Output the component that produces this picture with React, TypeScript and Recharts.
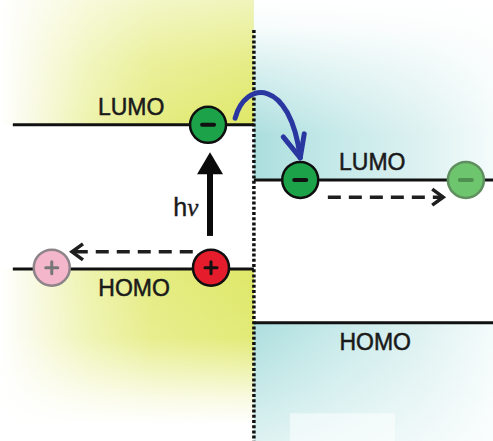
import React from "react";
import { ComposedChart, XAxis, YAxis, Scatter, ReferenceLine, ReferenceArea } from "recharts";

// ---- data (x: position across interface, y: energy, arbitrary units) ----
const interfaceX = 5.15;
const interfaceTop = 9.32;
const donorRange = [0.26, 5.15];
const acceptorRange = [5.15, 10];
const donorLevels = { LUMO: 7.17, HOMO: 3.9 };
const acceptorLevels = { LUMO: 5.92, HOMO: 2.68 };

const electrons = [
  { x: 4.22, y: 7.17, kind: "electron" },
  { x: 6.09, y: 5.92, kind: "electron" },
  { x: 9.45, y: 5.92, kind: "electronFaded" },
];
const holes = [
  { x: 4.28, y: 3.93, kind: "hole" },
  { x: 1.05, y: 3.93, kind: "holeFaded" },
];
const levelLabels = [
  { x: 2.66, y: 7.57, text: "LUMO" },
  { x: 2.72, y: 3.47, text: "HOMO" },
  { x: 7.55, y: 6.33, text: "LUMO" },
  { x: 7.61, y: 2.24, text: "HOMO" },
];
const photonLabel = [{ x: 3.77, y: 5.31, text: "hν" }];

const excitation = [{ x: 4.26, y: 4.65 }, { x: 4.26, y: 6.55 }];
const holeDrift = [{ x: 3.91, y: 4.29 }, { x: 1.46, y: 4.29 }];
const electronDrift = [{ x: 6.65, y: 5.53 }, { x: 8.99, y: 5.53 }];
const chargeTransfer = [{ x: 4.77, y: 7.32 }, { x: 6.09, y: 6.42 }];

// background bands: donor (yellow) and acceptor (cyan) above LUMO / below HOMO
const bands = [
  { id: "dU", x1: 0, x2: interfaceX, y1: donorLevels.LUMO, y2: 10, color: "yH", fade: "fadeDU" },
  { id: "dL", x1: 0, x2: interfaceX, y1: 0, y2: donorLevels.HOMO, color: "yH", fade: "fadeDL" },
  { id: "aU", x1: interfaceX, x2: 10, y1: acceptorLevels.LUMO, y2: 10, color: "cH", fade: "fadeAU" },
  { id: "aL", x1: interfaceX, x2: 10, y1: 0, y2: acceptorLevels.HOMO, color: "cH", fade: "fadeAL" },
];
const whitePatch = { x1: 5.88, x2: 8.01, y1: 0, y2: 0.63 };

const W = 493;
const H = 441;

const particleStyle: Record<string, { fill: string; stroke: string; sign: string; minus: boolean }> = {
  electron: { fill: "#1ca34a", stroke: "#0f0f0f", sign: "#111", minus: true },
  electronFaded: { fill: "#6dc66d", stroke: "#5f8f5f", sign: "#4f8f4f", minus: true },
  hole: { fill: "#e41c2b", stroke: "#0f0f0f", sign: "#111", minus: false },
  holeFaded: { fill: "#f3b6cb", stroke: "#8d8389", sign: "#777", minus: false },
};

const Particle = (props: any) => {
  const { cx, cy, payload } = props;
  const s = particleStyle[payload.kind];
  return (
    <g>
      <circle cx={cx} cy={cy} r={18} fill={s.fill} stroke={s.stroke} strokeWidth={2.5} />
      <line x1={cx - 6} x2={cx + 6} y1={cy} y2={cy} stroke={s.sign} strokeWidth={s.minus ? 4 : 3} strokeLinecap="round" />
      {!s.minus && (
        <line x1={cx} x2={cx} y1={cy - 6} y2={cy + 6} stroke={s.sign} strokeWidth={3} strokeLinecap="round" />
      )}
    </g>
  );
};

const LabelShape = (props: any) => {
  const { cx, cy, payload } = props;
  if (payload.text === "hν") {
    return (
      <text x={cx} y={cy} textAnchor="middle" dominantBaseline="central" fontSize={25} fill="#1a1a1a" stroke="#1a1a1a" strokeWidth={0.4}>
        <tspan fontFamily="'Liberation Sans', Arial, sans-serif">h</tspan>
        <tspan fontFamily="'Liberation Serif', 'Times New Roman', serif" fontStyle="italic">ν</tspan>
      </text>
    );
  }
  return (
    <text
      x={cx}
      y={cy}
      textAnchor="middle"
      dominantBaseline="central"
      fontFamily="'Liberation Sans', Arial, sans-serif"
      fontSize={23}
      fill="#1a1a1a"
      stroke="#1a1a1a"
      strokeWidth={0.5}
    >
      {payload.text}
    </text>
  );
};

const SolidArrow = (p: any) => {
  const { x1, y1, x2, y2 } = p;
  const head = 22;
  return (
    <g>
      <line x1={x1} y1={y1} x2={x2} y2={y2 + head - 2} stroke="#0a0a0a" strokeWidth={6} />
      <polygon points={`${x2},${y2} ${x2 - 13},${y2 + head} ${x2 + 13},${y2 + head}`} fill="#0a0a0a" />
    </g>
  );
};

const DashedArrow = (p: any) => {
  const { x1, y1, x2, y2 } = p;
  const dir = Math.sign(x2 - x1);
  return (
    <g stroke="#1e1e1e" strokeWidth={3.5} fill="none">
      <line x1={x1} y1={y1} x2={x2 - dir * 2} y2={y2} strokeDasharray="13 8" />
      <polyline
        points={`${x2 - dir * 11},${y2 - 8} ${x2},${y2} ${x2 - dir * 11},${y2 + 8}`}
        strokeLinejoin="miter"
        strokeLinecap="butt"
      />
    </g>
  );
};

const CurvedArrow = (p: any) => {
  const { x1, y1, x2, y2 } = p;
  const d = `M${x1},${y1} C${x1 + 10},${y1 - 38} ${x2 - 10},${y2 - 80} ${x2},${y2}`;
  return (
    <g stroke="#2a37a0" strokeWidth={5} fill="none" strokeLinecap="round" strokeLinejoin="round">
      <path d={d} />
      <polyline points={`${x2 - 17},${y2 - 21} ${x2},${y2} ${x2 + 4},${y2 - 24}`} />
    </g>
  );
};

const makeBand = (color: string, fade: string) => (p: any) => {
  const { x, y, width, height } = p;
  return (
    <g>
      <rect x={x} y={y} width={width} height={height} fill={`url(#${color})`} />
      <rect x={x} y={y} width={width} height={height} fill={`url(#${fade})`} />
    </g>
  );
};

const V = (props: { id: string; stops: [number, number][] }) => (
  <linearGradient id={props.id} x1="0" y1="0" x2="0" y2="1">
    {props.stops.map(([o, a], i) => (
      <stop key={i} offset={o} stopColor="#ffffff" stopOpacity={a} />
    ))}
  </linearGradient>
);

export default function App() {
  return (
    <div style={{ position: "absolute", left: 0, top: 0, background: "#fff" }}>
      <ComposedChart width={W} height={H} margin={{ top: 0, right: 0, bottom: 0, left: 0 }}>
        <defs>
          <linearGradient id="yH" x1="0" y1="0" x2="1" y2="0">
            <stop offset="0" stopColor="#ffffff" />
            <stop offset="0.1" stopColor="#fafbea" />
            <stop offset="0.35" stopColor="#eef3ae" />
            <stop offset="0.6" stopColor="#e5ec82" />
            <stop offset="1" stopColor="#dfe868" />
          </linearGradient>
          <linearGradient id="cH" x1="0" y1="0" x2="1" y2="0">
            <stop offset="0" stopColor="#acdede" />
            <stop offset="0.35" stopColor="#c6e9e9" />
            <stop offset="0.7" stopColor="#ddf1f1" />
            <stop offset="1" stopColor="#f4fbfb" />
          </linearGradient>
          <V id="fadeDU" stops={[[0, 0.55], [0.5, 0.2], [1, 0]]} />
          <V id="fadeDL" stops={[[0, 0], [0.4, 0.1], [0.75, 0.8], [0.9, 1], [1, 1]]} />
          <V id="fadeAU" stops={[[0, 1], [0.15, 0.9], [0.4, 0.5], [0.75, 0], [1, 0]]} />
          <V id="fadeAL" stops={[[0, 0], [0.6, 0.35], [1, 0.6]]} />
        </defs>
        <XAxis type="number" dataKey="x" domain={[0, 10]} hide allowDataOverflow />
        <YAxis type="number" dataKey="y" domain={[0, 10]} hide allowDataOverflow />

        {bands.map((b) => (
          <ReferenceArea key={b.id} x1={b.x1} x2={b.x2} y1={b.y1} y2={b.y2} shape={makeBand(b.color, b.fade)} />
        ))}
        <ReferenceArea x1={whitePatch.x1} x2={whitePatch.x2} y1={whitePatch.y1} y2={whitePatch.y2} fill="#ffffff" fillOpacity={0.5} stroke="none" />

        <ReferenceLine segment={[{ x: interfaceX, y: interfaceTop }, { x: interfaceX, y: 0 }]} stroke="#111" strokeWidth={3.5} strokeDasharray="3 2.2" />

        <ReferenceLine segment={[{ x: donorRange[0], y: donorLevels.LUMO }, { x: donorRange[1], y: donorLevels.LUMO }]} stroke="#111" strokeWidth={3} />
        <ReferenceLine segment={[{ x: donorRange[0], y: donorLevels.HOMO }, { x: donorRange[1], y: donorLevels.HOMO }]} stroke="#111" strokeWidth={3} />
        <ReferenceLine segment={[{ x: acceptorRange[0], y: acceptorLevels.LUMO }, { x: acceptorRange[1], y: acceptorLevels.LUMO }]} stroke="#111" strokeWidth={3} />
        <ReferenceLine segment={[{ x: acceptorRange[0], y: acceptorLevels.HOMO }, { x: acceptorRange[1], y: acceptorLevels.HOMO }]} stroke="#111" strokeWidth={3} />

        <ReferenceLine segment={excitation} shape={SolidArrow} />
        <ReferenceLine segment={holeDrift} shape={DashedArrow} />
        <ReferenceLine segment={electronDrift} shape={DashedArrow} />
        <ReferenceLine segment={chargeTransfer} shape={CurvedArrow} />

        <Scatter data={levelLabels} shape={LabelShape} isAnimationActive={false} />
        <Scatter data={photonLabel} shape={LabelShape} isAnimationActive={false} />
        <Scatter data={electrons} shape={Particle} isAnimationActive={false} />
        <Scatter data={holes} shape={Particle} isAnimationActive={false} />
      </ComposedChart>
    </div>
  );
}
